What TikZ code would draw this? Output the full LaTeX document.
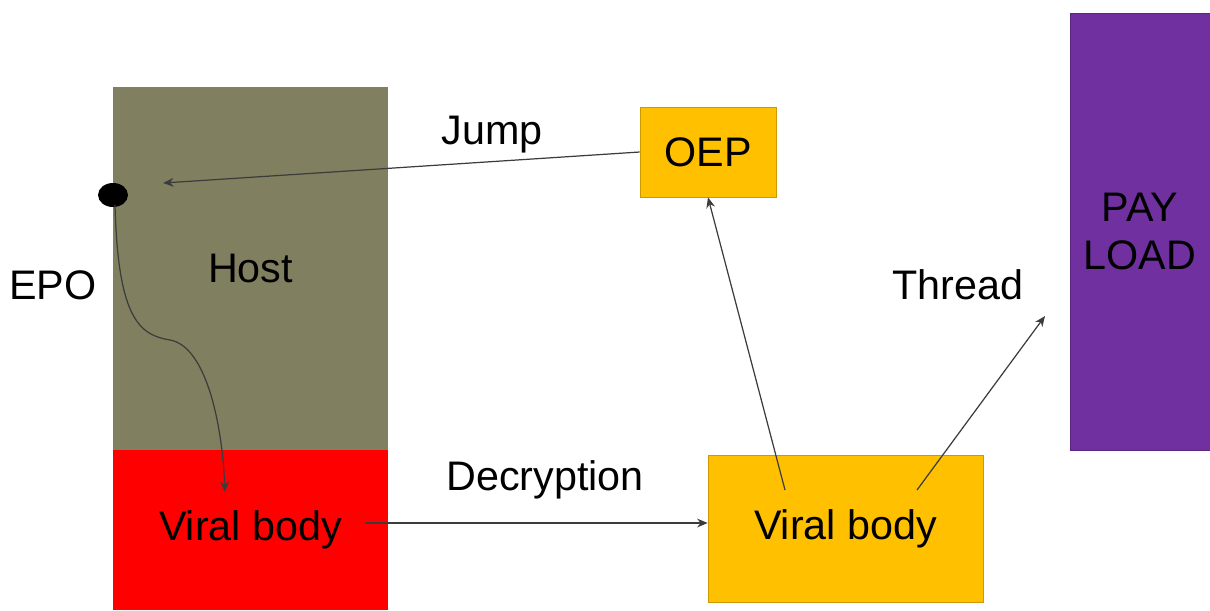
\documentclass[tikz,border=0pt]{standalone}
\usepackage{fontspec}
\setmainfont{Liberation Sans}
\usetikzlibrary{arrows.meta}
\definecolor{hostcol}{RGB}{128,128,96}
\definecolor{oepcol}{RGB}{255,192,0}
\definecolor{paycol}{RGB}{112,48,160}
\definecolor{linecol}{RGB}{60,60,60}
\begin{document}
\begin{tikzpicture}[x=0.02cm,y=-0.02cm,>={Stealth[length=6pt,width=5pt]},
  every node/.style={font=\fontsize{23.5}{27}\selectfont},
  block/.style={inner sep=0pt},
  link/.style={->,draw=linecol,line width=0.7pt}]
\useasboundingbox (0,0) rectangle (1210,610);

\node[block,fill=hostcol,minimum width=5.5cm,minimum height=7.26cm] (host) at (250.5,268.5) {Host};
\node[block,fill=red,minimum width=5.5cm,minimum height=3.2cm] (virus) at (250.5,530) {Viral body};
\node[block,fill=oepcol,draw=oepcol!80!black,line width=0.4pt,minimum width=2.72cm,minimum height=1.8cm] (oep) at (708,152) {OEP};
\node[block,fill=oepcol,draw=oepcol!80!black,line width=0.4pt,minimum width=5.5cm,minimum height=2.94cm] (body) at (845.5,528.5) {Viral body};
\node[block,fill=paycol,draw=paycol!80!black,line width=0.4pt,minimum width=2.8cm,minimum height=8.74cm,align=center] (payload) at (1140,231.5) {PAY\\LOAD};

\fill (113,195) ellipse (15 and 12);
\node (epo) at (53,285) {EPO};
\node (jump) at (492,135) {Jump};
\node (decrypt) at (545,480) {Decryption};
\node (thread) at (958,285) {Thread};

\coordinate (entry) at (163,183);
\coordinate (start) at (115,205);
\coordinate (drop) at (225,492);
\coordinate (vout) at (365,523);
\coordinate (bout) at (785,490);
\coordinate (tout) at (917,490);
\coordinate (tend) at (1045,316);

\draw[link] (oep.west) -- (entry);
\draw[link] (start) .. controls (118,320) and (140,335) .. (170,340)
  .. controls (205,346) and (222,420) .. (drop);
\draw[link] (vout) -- (vout -| body.west);
\draw[link] (bout) -- (oep.south);
\draw[link] (tout) -- (tend);
\end{tikzpicture}
\end{document}
